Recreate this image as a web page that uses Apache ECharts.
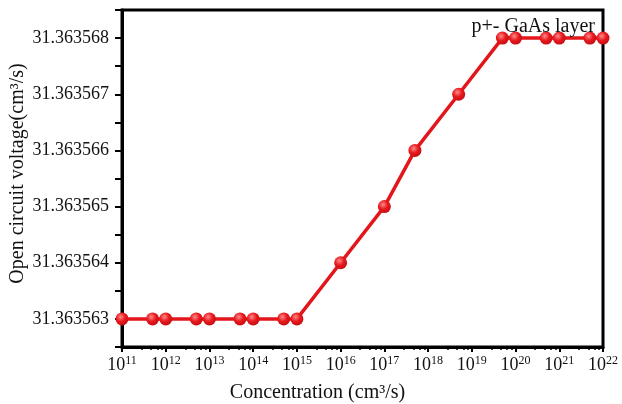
<!DOCTYPE html>
<html><head><meta charset="utf-8">
<script src="https://cdn.jsdelivr.net/npm/echarts@6/dist/echarts.min.js"></script>
<style>html,body{margin:0;padding:0;background:#fff}#c{width:622px;height:404px}</style>
</head><body><div id="c"></div>
<script>
const concentrations = [1e11, 5e11, 1e12, 5e12, 1e13, 5e13, 1e14, 5e14, 1e15, 1e16, 1e17, 5e17, 5e18, 5e19, 1e20, 5e20, 1e21, 5e21, 1e22];
const voltages = [31.363563, 31.363563, 31.363563, 31.363563, 31.363563, 31.363563, 31.363563, 31.363563, 31.363563, 31.363564, 31.363565, 31.363566, 31.363567, 31.363568, 31.363568, 31.363568, 31.363568, 31.363568, 31.363568];
const yTickLabels = ['31.363563','31.363564','31.363565','31.363566','31.363567','31.363568'];
const titleText = 'p+- GaAs layer';
const xName = 'Concentration (cm³/s)';
const yName = 'Open circuit voltage(cm³/s)';

const font = 'Liberation Serif';
const chart = echarts.init(document.getElementById('c'));
const red = '#e3161b';
chart.setOption({
  animation: false,
  backgroundColor: '#fff',
  title: {text: titleText, right: 22, top: 12, textStyle: {fontFamily: font, fontWeight: 'normal', fontSize: 20, color: '#111'}},
  grid: {left: 122, right: 19, top: 10, bottom: 57, show: true, borderColor: '#000', borderWidth: 3, containLabel: false, outerBoundsMode: 'none'},
  xAxis: {
    type: 'log', logBase: 10, min: 1e11, max: 1e22, interval: 1, splitNumber: 11,
    name: xName, nameLocation: 'middle', nameGap: 36, nameMoveOverlap: false,
    nameTextStyle: {fontFamily: font, fontSize: 20, color: '#111', padding: [0, 90, 0, 0]},
    axisLine: {lineStyle: {color: '#000', width: 3}},
    axisTick: {show: true, length: 5, lineStyle: {color: '#000', width: 2}},
    minorTick: {show: true, splitNumber: 5, length: 3, lineStyle: {color: '#000', width: 1.5}},
    splitLine: {show: false},
    axisLabel: {
      margin: 8, hideOverlap: false, showMinLabel: true, showMaxLabel: true,
      formatter: v => '{b|10}{s|' + Math.round(Math.log10(v)) + '}',
      rich: {
        b: {fontFamily: font, fontSize: 18, color: '#111'},
        s: {fontFamily: font, fontSize: 12, color: '#111', padding: [0, 0, 9, 0]}
      }
    }
  },
  yAxis: {
    type: 'value', min: 31.3635625, max: 31.3635685, interval: 0.0000005,
    name: yName, nameLocation: 'middle', nameGap: 94, nameMoveOverlap: false,
    nameTextStyle: {fontFamily: font, fontSize: 20, color: '#111', padding: [0, 0, 0, 10]},
    axisLine: {lineStyle: {color: '#000', width: 3}},
    axisTick: {show: true, length: 7, lineStyle: {color: '#000', width: 2}},
    splitLine: {show: false},
    axisLabel: {
      margin: 13, fontFamily: font, fontSize: 18, color: '#111',
      formatter: v => {
        const m = Math.round(v * 1e6);
        if (Math.abs(v * 1e6 - m) > 0.1) return '';
        const s = v.toFixed(6);
        return yTickLabels.indexOf(s) >= 0 ? s : '';
      }
    }
  },
  series: [{
    type: 'line',
    data: concentrations.map((c, i) => [c, voltages[i]]),
    symbol: 'circle', symbolSize: 13,
    lineStyle: {color: red, width: 3.5},
    itemStyle: {color: {type: 'radial', x: 0.4, y: 0.35, r: 0.7, colorStops: [{offset: 0, color: '#ff8a8a'}, {offset: 0.5, color: '#e8191e'}, {offset: 1, color: '#c00d12'}]}, borderWidth: 0},
    z: 3
  }]
});
</script></body></html>
